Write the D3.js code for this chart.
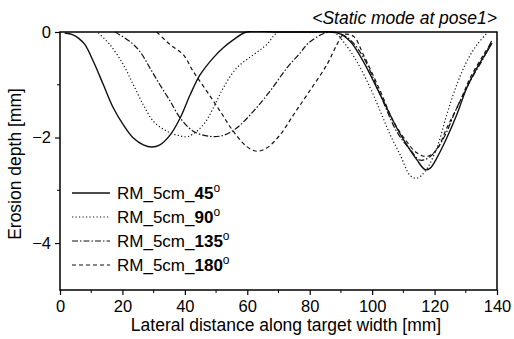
<!DOCTYPE html>
<html>
<head>
<meta charset="utf-8">
<script src="https://cdn.jsdelivr.net/npm/d3@7"></script>
<style>
  body { margin: 0; background: #fff; }
  svg { display: block; font-family: "Liberation Sans", Arial, sans-serif; }
</style>
</head>
<body>
<div id="chart"></div>
<script>
// lateral distance [mm] / erosion depth [mm]
const dist45 = [1.5, 4, 6, 8, 10.7, 13.9, 17.1, 20.3, 23.5, 26.7, 29.4, 32, 35.3, 38.5, 41.7, 44.9, 49.1, 52.3, 55.5, 59.8, 70, 80, 89.2, 93, 97.2, 101.5, 104.7, 107.9, 111.1, 114.3, 117, 118.6, 120.7, 123.9, 127.1, 130.3, 133.6, 136.8, 138.4];
const depth45 = [-0.02, -0.05, -0.12, -0.24, -0.56, -1.0, -1.44, -1.76, -2.01, -2.14, -2.18, -2.14, -1.95, -1.63, -1.19, -0.81, -0.49, -0.30, -0.15, 0, 0, 0, -0.02, -0.18, -0.56, -1.06, -1.44, -1.82, -2.14, -2.42, -2.61, -2.58, -2.39, -2.01, -1.57, -1.06, -0.68, -0.37, -0.21];

const dist90 = [12.3, 16, 20.3, 23.5, 26.7, 29.9, 34.2, 37.9, 41.1, 45.9, 49.1, 52.3, 56.6, 62, 66.2, 70, 80, 88, 91, 95.1, 99.4, 102.6, 105.8, 109, 112.2, 114.3, 117, 120.7, 123.9, 127.1, 130.3, 133.6, 136.8];
const depth90 = [-0.02, -0.24, -0.62, -1.0, -1.38, -1.69, -1.88, -1.96, -1.98, -1.76, -1.44, -1.06, -0.68, -0.43, -0.24, 0, 0, -0.02, -0.2, -0.56, -1.06, -1.50, -1.95, -2.33, -2.72, -2.77, -2.64, -2.20, -1.57, -1.0, -0.56, -0.24, -0.02];

const dist135 = [17.6, 22.4, 25.6, 28.8, 32, 35.3, 38.5, 42.7, 48.1, 52.3, 56.6, 62, 67.3, 72.7, 76.9, 79.6, 84.9, 89, 93, 97.2, 102.6, 107.9, 112.2, 115.4, 118.6, 122.9, 127.1, 131.4, 135.7, 138.4];
const depth135 = [0, -0.18, -0.37, -0.68, -1.0, -1.31, -1.63, -1.88, -1.98, -1.96, -1.82, -1.50, -1.12, -0.68, -0.40, -0.21, -0.02, -0.02, -0.15, -0.48, -1.19, -1.89, -2.23, -2.43, -2.36, -2.01, -1.44, -0.93, -0.49, -0.15];

const dist180 = [31, 35.3, 39.5, 42.7, 47, 51.3, 55.5, 59.8, 63, 66.2, 70.5, 74.8, 79.6, 85.5, 88.7, 90.8, 94, 97.2, 102.6, 106.8, 111.1, 114.3, 117.5, 120.7, 123.9, 128.2, 131.4, 135.7, 138.4];
const depth180 = [0, -0.24, -0.43, -0.75, -1.12, -1.50, -1.88, -2.17, -2.26, -2.20, -1.95, -1.57, -1.15, -0.62, -0.24, -0.05, -0.08, -0.43, -1.12, -1.69, -2.08, -2.29, -2.36, -2.23, -1.82, -1.31, -0.87, -0.43, -0.18];

const seriesNames = ['45', '90', '135', '180'];
const xTicks = [0, 20, 40, 60, 80, 100, 120, 140];
const yTicks = [0, -2, -4];

const width = 514, height = 339;
const margin = { top: 32, right: 17, bottom: 49, left: 60 };

const x = d3.scaleLinear().domain([0, 140]).range([margin.left, width - margin.right]);
const y = d3.scaleLinear().domain([-4.89, 0]).range([height - margin.bottom, margin.top]);

const svg = d3.select('#chart').append('svg')
  .attr('width', width)
  .attr('height', height);

svg.append('clipPath').attr('id', 'clip')
  .append('rect')
  .attr('x', margin.left).attr('y', margin.top - 1)
  .attr('width', x(140) - x(0)).attr('height', y(-4.89) - y(0) + 1);

const series = [
  { name: seriesNames[0], xs: dist45, ys: depth45, dash: null, width: 1.4 },
  { name: seriesNames[1], xs: dist90, ys: depth90, dash: '1.2,2.3', width: 1.2 },
  { name: seriesNames[2], xs: dist135, ys: depth135, dash: '6,2,1.5,2', width: 1.2 },
  { name: seriesNames[3], xs: dist180, ys: depth180, dash: '4,3', width: 1.2 }
];

const line = d3.line()
  .x(d => x(d[0]))
  .y(d => y(d[1]))
  .curve(d3.curveCatmullRom.alpha(0.5));

svg.append('g').attr('clip-path', 'url(#clip)')
  .selectAll('path')
  .data(series)
  .enter().append('path')
  .attr('d', s => line(s.xs.map((v, i) => [v, s.ys[i]])))
  .attr('fill', 'none')
  .attr('stroke', '#111')
  .attr('stroke-width', s => s.width)
  .attr('stroke-dasharray', s => s.dash);

// axes
const xAxis = svg.append('g')
  .attr('transform', `translate(0,${y(-4.89)})`)
  .call(d3.axisBottom(x).tickValues(xTicks).tickSize(5).tickPadding(5).tickFormat(d3.format('d')));
xAxis.append('g').selectAll('line')
  .data(d3.range(10, 140, 20))
  .enter().append('line')
  .attr('x1', d => x(d)).attr('x2', d => x(d))
  .attr('y1', 0).attr('y2', 3)
  .attr('stroke', '#000');

const yAxis = svg.append('g')
  .attr('transform', `translate(${margin.left},0)`)
  .call(d3.axisLeft(y).tickValues(yTicks).tickSize(5).tickPadding(4).tickFormat(d3.format('d')));
yAxis.append('g').selectAll('line')
  .data([-1, -3])
  .enter().append('line')
  .attr('y1', d => y(d)).attr('y2', d => y(d))
  .attr('x1', 0).attr('x2', -3)
  .attr('stroke', '#000');

[xAxis, yAxis].forEach(a => {
  a.select('.domain').remove();
  a.selectAll('.tick line').attr('stroke', '#000').attr('stroke-width', 1.2);
  a.selectAll('text').style('font-size', '16.5px').attr('fill', '#000');
});

svg.append('rect')
  .attr('x', x(0)).attr('y', y(0))
  .attr('width', x(140) - x(0)).attr('height', y(-4.89) - y(0))
  .attr('fill', 'none')
  .attr('stroke', '#000')
  .attr('stroke-width', 1.5);

// titles
svg.append('text')
  .attr('x', 286)
  .attr('y', 331)
  .attr('text-anchor', 'middle')
  .style('font-size', '17.5px')
  .text('Lateral distance along target width [mm]');

svg.append('text')
  .attr('transform', 'translate(21,164) rotate(-90)')
  .attr('text-anchor', 'middle')
  .style('font-size', '17.5px')
  .text('Erosion depth [mm]');

svg.append('text')
  .attr('x', x(140))
  .attr('y', 24)
  .attr('text-anchor', 'end')
  .style('font-size', '17.5px')
  .style('font-style', 'italic')
  .text('<Static mode at pose1>');

// legend
const legend = svg.append('g').attr('transform', 'translate(72,198.5)');
const items = legend.selectAll('g')
  .data(series)
  .enter().append('g')
  .attr('transform', (d, i) => `translate(0,${i * 24})`);

items.append('line')
  .attr('x1', 0).attr('x2', 38)
  .attr('y1', -5.5).attr('y2', -5.5)
  .attr('stroke', '#111')
  .attr('stroke-width', s => s.width)
  .attr('stroke-dasharray', s => s.dash);

const label = items.append('text')
  .attr('x', 45)
  .style('font-size', '17px');
label.append('tspan').text('RM_5cm_');
label.append('tspan').style('font-weight', 'bold').text(s => s.name);
label.append('tspan').attr('dy', -7).style('font-size', '12px').text('o');
</script>
</body>
</html>
